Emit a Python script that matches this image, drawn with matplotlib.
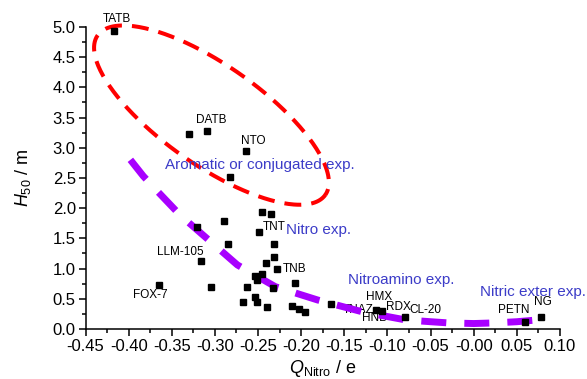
import numpy as np
import matplotlib
matplotlib.use("Agg")
import matplotlib.pyplot as plt

plt.rcParams['font.family'] = ['Liberation Sans', 'DejaVu Sans']
plt.rcParams['mathtext.fontset'] = 'custom'
plt.rcParams['mathtext.rm'] = 'Liberation Sans'
plt.rcParams['mathtext.it'] = 'Liberation Sans:italic'

# measured points (Q_Nitro, H50)
q_nitro = [-0.417, -0.330, -0.309, -0.264, -0.282, -0.245, -0.235, -0.289, -0.249, -0.321,
           -0.231, -0.285, -0.232, -0.241, -0.316, -0.228, -0.245, -0.253, -0.251, -0.207,
           -0.365, -0.305, -0.263, -0.233, -0.254, -0.251, -0.268, -0.240, -0.211, -0.202,
           -0.196, -0.165, -0.113, -0.106, -0.080, 0.059, 0.078]
h50 = [4.93, 3.22, 3.27, 2.95, 2.52, 1.93, 1.91, 1.79, 1.61, 1.68,
       1.41, 1.40, 1.19, 1.10, 1.13, 1.00, 0.91, 0.87, 0.81, 0.76,
       0.73, 0.69, 0.69, 0.67, 0.53, 0.45, 0.44, 0.37, 0.38, 0.33,
       0.28, 0.42, 0.31, 0.30, 0.20, 0.12, 0.20]

# names and which point they belong to
names = ['TATB', 'DATB', 'NTO', 'TNT', 'LLM-105', 'FOX-7', 'TNB', 'HMX', 'RDX', 'CL-20',
         'TNAZ', 'HNB', 'PETN', 'NG']
name_idx = [0, 2, 3, 8, 14, 20, 15, 32, 34, 34, 32, 33, 35, 36]

# purple guide curve
guide_q = [-0.398, -0.383, -0.366, -0.340, -0.311, -0.274, -0.230, -0.181, -0.128, -0.079,
           -0.050, -0.029, 0.0, 0.023, 0.050, 0.074]
guide_h = [2.80, 2.53, 2.27, 1.88, 1.52, 1.06, 0.70, 0.48, 0.28, 0.15,
           0.12, 0.10, 0.09, 0.10, 0.12, 0.15]

# class labels
groups = ['Aromatic or conjugated exp.', 'Nitro exp.', 'Nitroamino exp.', 'Nitric exter exp.']
group_q = [-0.358, -0.2174, -0.1455, 0.0076]
group_h = [2.72, 1.64, 0.81, 0.61]

# red ellipse (centre in data units, axes in pixels)
ell_q, ell_h = -0.304, 3.54
ell_a, ell_b, ell_ang = 139, 50, 35

fig = plt.figure(figsize=(5.87, 3.79), dpi=100)
ax = fig.add_axes([0.1457, 0.132, 0.8083, 0.797])
xmin, xmax, ymin, ymax = -0.45, 0.10, 0.0, 5.0
ax.set_xlim(xmin, xmax)
ax.set_ylim(ymin, ymax)

# ellipse drawn in pixel space then mapped back to data
wpx = 0.8083 * 587
hpx = 0.797 * 379
t = np.linspace(0, 2 * np.pi, 300)
th = np.radians(ell_ang)
px = ell_a * np.cos(t) * np.cos(th) - ell_b * np.sin(t) * np.sin(th)
py = ell_a * np.cos(t) * np.sin(th) + ell_b * np.sin(t) * np.cos(th)
ex = ell_q + px * (xmax - xmin) / wpx
ey = ell_h - py * (ymax - ymin) / hpx
ax.plot(ex, ey, color='#ff0000', lw=2.9, ls=(0, (4.2, 2.5)), zorder=2, clip_on=False)

ax.plot(guide_q, guide_h, color='#a800ff', lw=5, ls=(0, (3.6, 2.6)), zorder=3)

ax.plot(q_nitro, h50, 's', color='black', ms=5, zorder=4, clip_on=False)

offsets = {'TATB': (3, 12, 'center'), 'DATB': (4, 11, 'center'), 'NTO': (7, 10, 'center'),
           'TNT': (4, 5, 'left'), 'LLM-105': (-21, 9, 'center'), 'FOX-7': (-9, -10, 'center'),
           'TNB': (6, 0, 'left'), 'HMX': (3, 13, 'center'), 'RDX': (-6, 10, 'center'),
           'CL-20': (21, 7, 'center'), 'TNAZ': (-18, 0, 'center'), 'HNB': (-8, -7, 'center'),
           'PETN': (-11, 12, 'center'), 'NG': (2, 15, 'center')}
for n, i in zip(names, name_idx):
    dx, dy, ha = offsets[n]
    ax.annotate(n, (q_nitro[i], h50[i]), xytext=(dx, dy), textcoords='offset pixels',
                ha=ha, va='center', fontsize=8.5, zorder=2)

for g, gq, gh in zip(groups, group_q, group_h):
    ax.text(gq, gh, g, color='#3c3cc8', fontsize=11, va='center')

ax.spines['top'].set_visible(False)
ax.spines['right'].set_visible(False)
for s in ['left', 'bottom']:
    ax.spines[s].set_linewidth(1.1)
ax.set_xticks(np.arange(-0.45, 0.101, 0.05))
ax.set_xticks(np.arange(-0.425, 0.1, 0.05), minor=True)
ax.set_yticks(np.arange(0, 5.01, 0.5))
ax.set_yticks(np.arange(0.25, 5.0, 0.5), minor=True)
ax.set_xticklabels(['%.2f' % v for v in np.arange(-0.45, 0.101, 0.05)])
ax.set_yticklabels(['%.1f' % v for v in np.arange(0, 5.01, 0.5)])
ax.tick_params(which='major', length=5, width=1.1, labelsize=12, pad=2)
ax.tick_params(which='minor', length=3, width=1.1)

ax.set_xlabel(r'$Q_{\mathrm{Nitro}}$ / e', fontsize=13, labelpad=3)
ax.set_ylabel(r'$H_{50}$ / m', fontsize=13, labelpad=14)

fig.savefig('out.png', dpi=100)
